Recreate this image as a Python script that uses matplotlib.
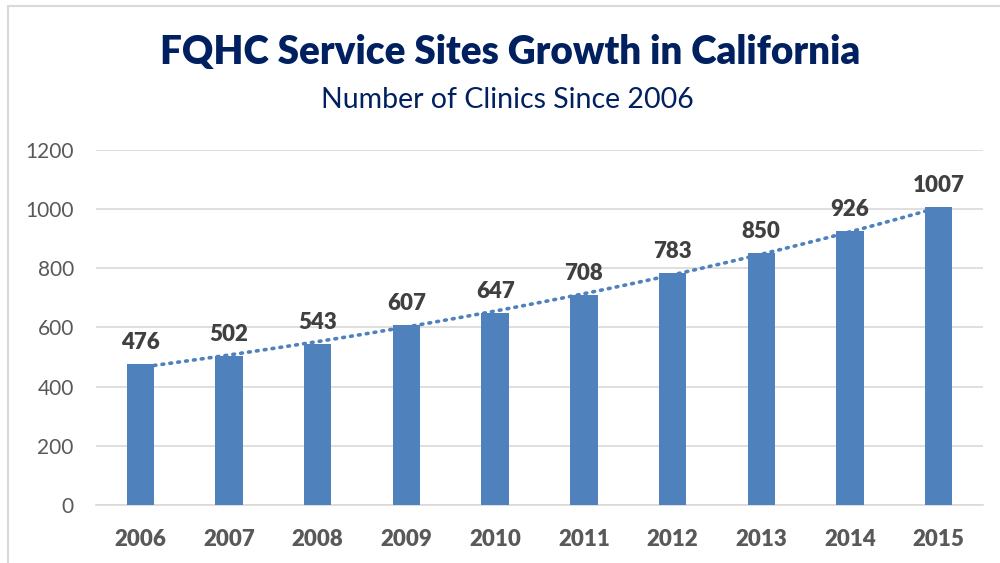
import numpy as np
import matplotlib
matplotlib.use("Agg")
import matplotlib.pyplot as plt
from matplotlib.patches import Rectangle

years = ["2006", "2007", "2008", "2009", "2010", "2011", "2012", "2013", "2014", "2015"]
clinics = [476, 502, 543, 607, 647, 708, 783, 850, 926, 1007]
yticks = [0, 200, 400, 600, 800, 1000, 1200]

BLUE = "#4F81BD"
NAVY = "#002060"
BAR_W = 0.31
plt.rcParams["font.family"] = ["Lato", "DejaVu Sans"]

fig = plt.figure(figsize=(10, 5.63), dpi=100)
ax = fig.add_axes([0.096, 0.103, 0.887, 0.631])

x = np.arange(len(years))
ax.bar(x, clinics, width=BAR_W, color=BLUE, zorder=3)
for xi, v in zip(x, clinics):
    ax.text(xi, v + 38, str(v), ha="center", va="bottom", fontsize=16,
            fontweight="heavy", color="#404040")

# exponential trendline, spanning from first bar's right edge to last bar's left edge
k, b = np.polyfit(x, np.log(clinics), 1)
xt = np.linspace(BAR_W / 2, len(years) - 1 - BAR_W / 2, 100)
ax.plot(xt, np.exp(k * xt + b), ls=(0, (0.5, 1.7)), lw=2.6, color=BLUE,
        dash_capstyle="round", zorder=4)

ax.set_xlim(-0.5, len(years) - 0.5)
ax.set_ylim(0, 1200)
ax.set_yticks(yticks)
ax.set_xticks(x, years)
ax.yaxis.grid(True, color="#D9D9D9", lw=1.2, zorder=0)
ax.set_axisbelow(True)
for s in ("top", "right", "left"):
    ax.spines[s].set_visible(False)
ax.spines["bottom"].set_color("#D9D9D9")
ax.spines["bottom"].set_linewidth(1.2)
ax.tick_params(length=0)
ax.tick_params(axis="y", labelsize=15, labelcolor="#595959", pad=16)
ax.tick_params(axis="x", labelsize=16, labelcolor="#595959", pad=17)
for lbl in ax.get_xticklabels():
    lbl.set_fontweight("heavy")

fig.text(0.51, 0.907, "FQHC Service Sites Growth in California", ha="center",
         va="center", fontsize=27.8, fontweight="heavy", color=NAVY)
fig.text(0.507, 0.822, "Number of Clinics Since 2006", ha="center",
         va="center", fontsize=20.5, color=NAVY)

# chart frame
fig.patches.append(Rectangle((0.008, -0.05), 1.1, 1.04, transform=fig.transFigure,
                             fill=False, ec="#D9D9D9", lw=1.5))

fig.savefig("out.png", dpi=100)
